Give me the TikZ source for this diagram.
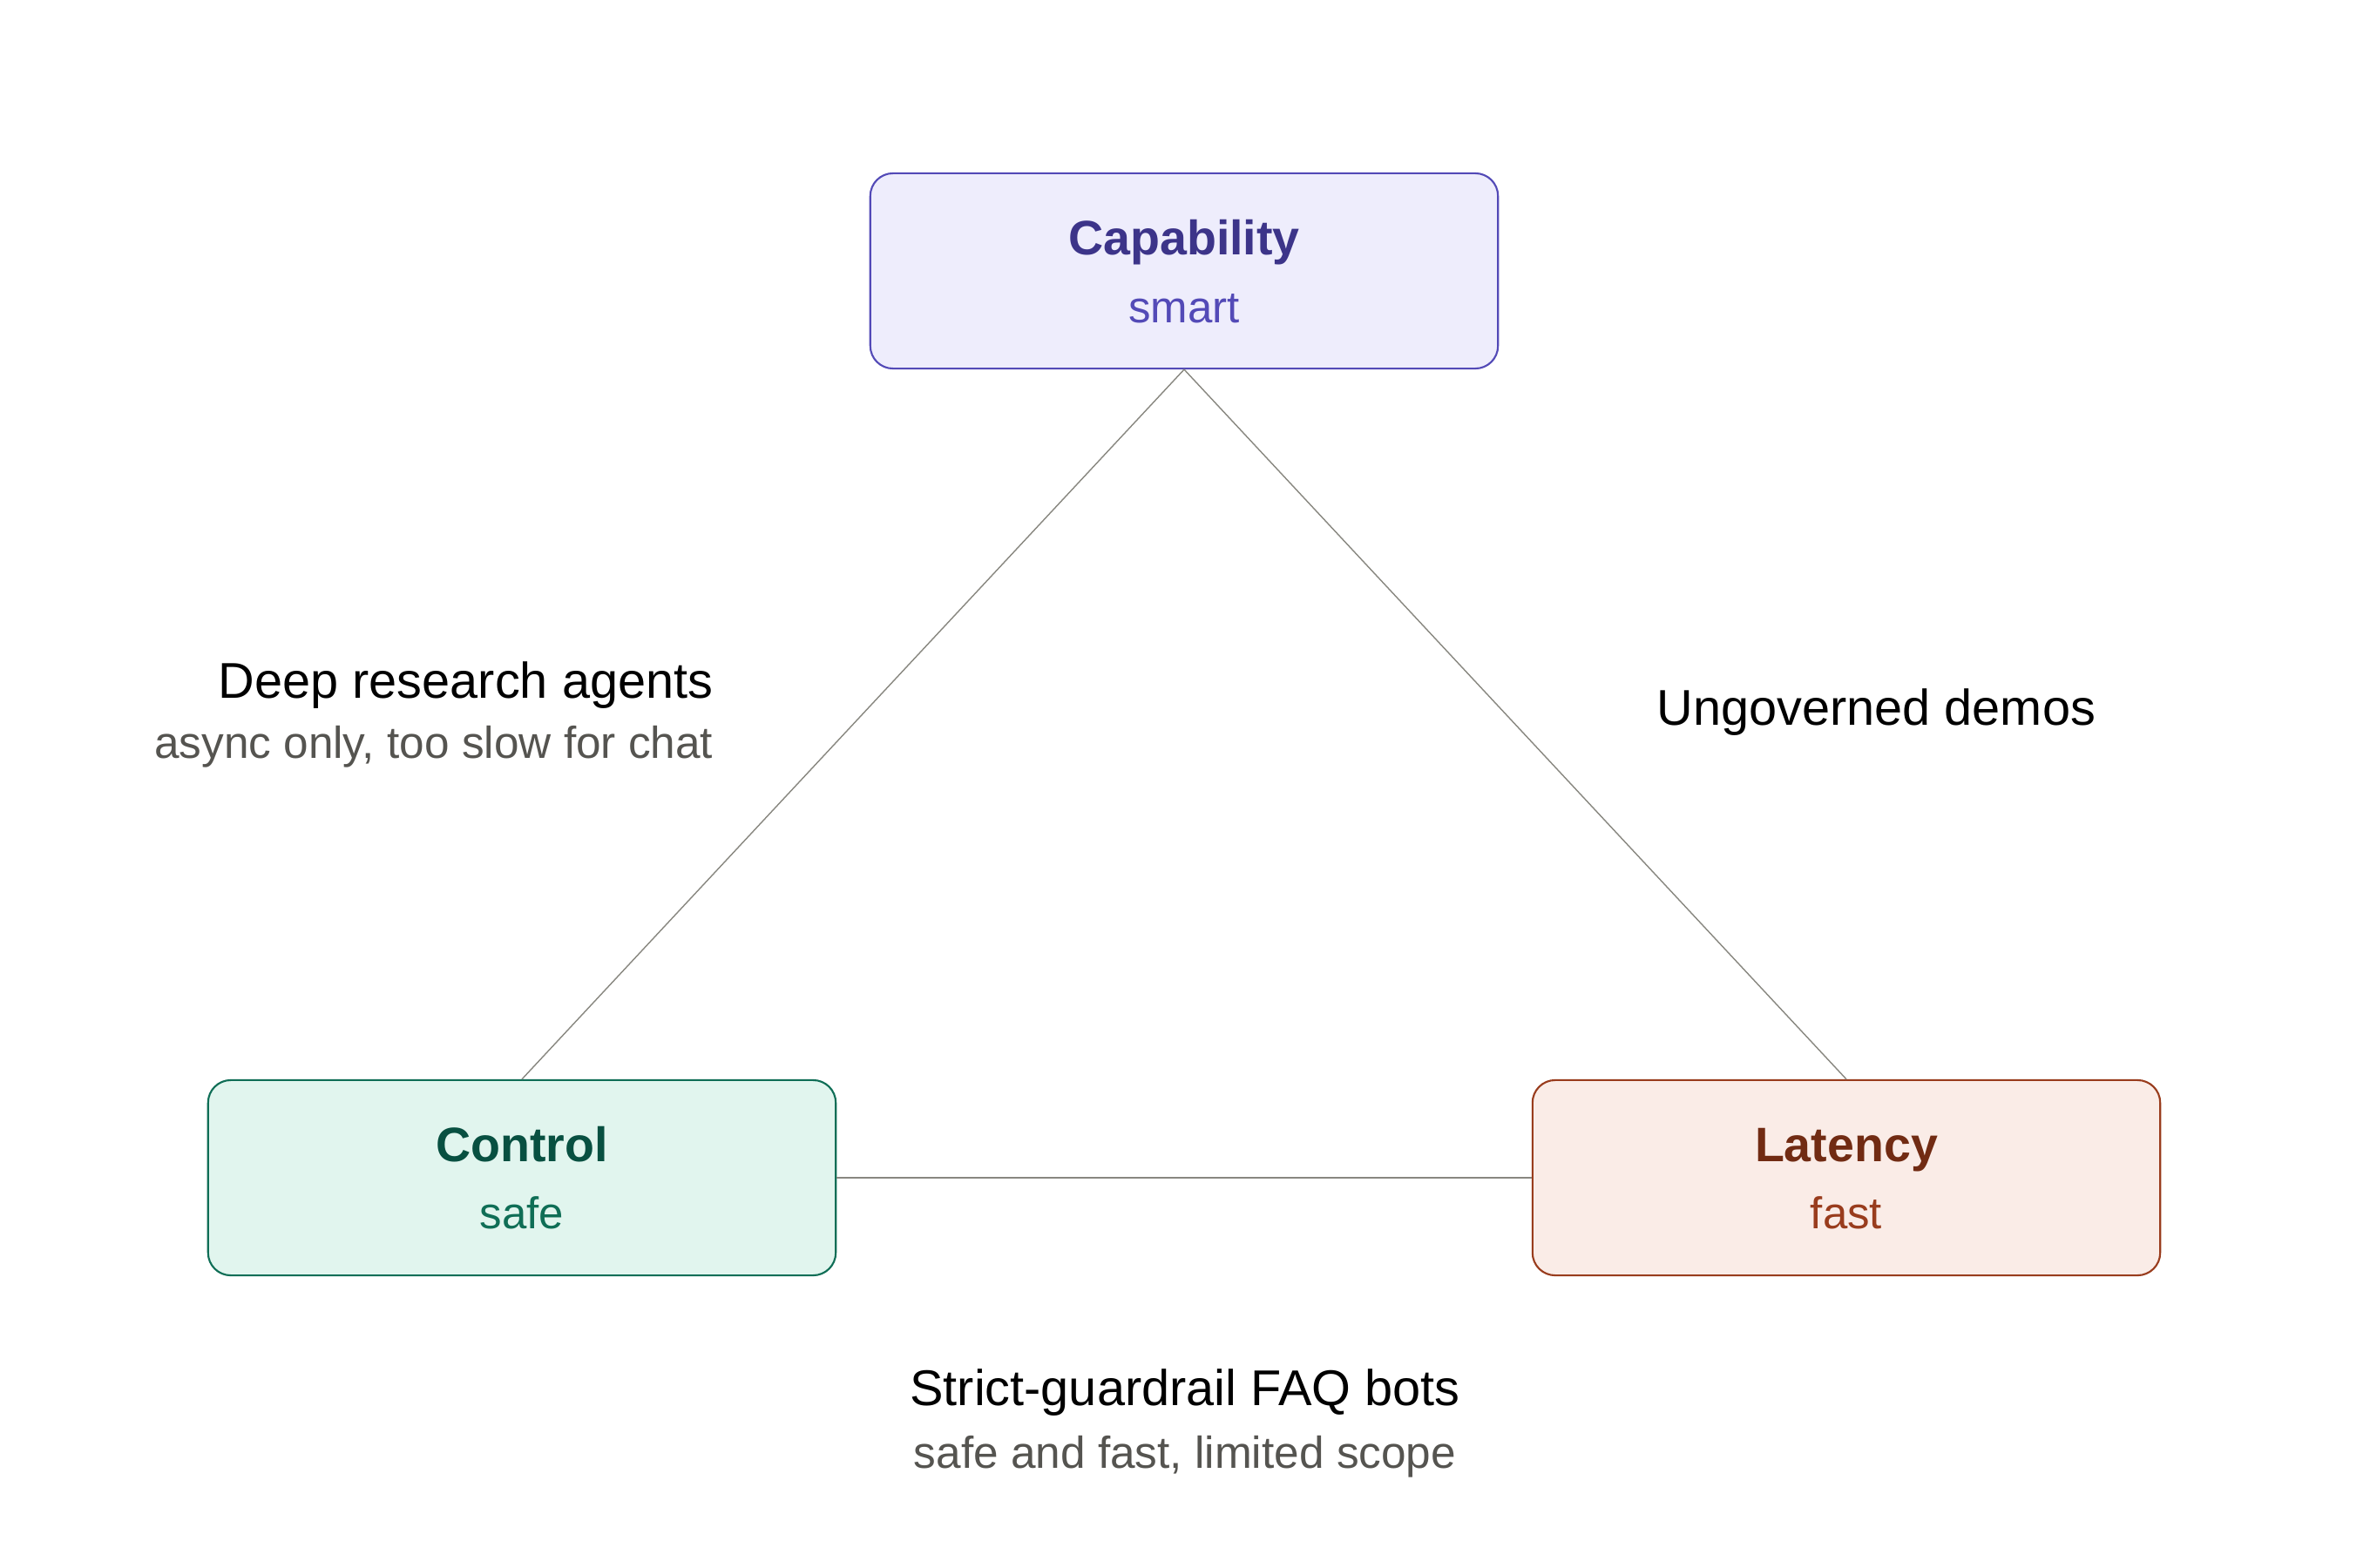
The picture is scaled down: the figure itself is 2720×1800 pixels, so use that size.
\documentclass[tikz,border=0pt]{standalone}
\usepackage{fontspec}
\setmainfont{Liberation Sans}
\usetikzlibrary{positioning}

% palette
\definecolor{capfill}{HTML}{EEEDFC}
\definecolor{capline}{HTML}{534AB7}
\definecolor{captext}{HTML}{3C3489}
\definecolor{ctlfill}{HTML}{E1F5EE}
\definecolor{ctlline}{HTML}{0F6E56}
\definecolor{ctltext}{HTML}{085041}
\definecolor{latfill}{HTML}{FAECE7}
\definecolor{latline}{HTML}{993C1D}
\definecolor{lattext}{HTML}{712B13}
\definecolor{edgegray}{HTML}{888780}
\definecolor{subgray}{HTML}{555450}

\tikzset{
  corner/.style={draw=#1line, fill=#1fill, line width=0.6pt, rounded corners=0.26cm,
    minimum width=7.2cm, minimum height=2.24cm, inner sep=0pt},
  cornertitle/.style={anchor=base, inner sep=0pt, text=#1text,
    font=\fontsize{15.8}{19}\selectfont\bfseries},
  cornersub/.style={anchor=base, inner sep=0pt, text=#1line,
    font=\fontsize{14.5}{17}\selectfont},
  zonetitle/.style={inner sep=0pt, text=black, font=\fontsize{16.4}{19}\selectfont},
  zonesub/.style={inner sep=0pt, text=subgray, font=\fontsize{14.6}{17}\selectfont},
  edge/.style={draw=edgegray, line width=0.4pt},
}

\begin{document}
\begin{tikzpicture}[x=0.01cm, y=-0.01cm]
  \path[use as bounding box, fill=white] (0,0) rectangle (2720,1800);

  % the three corners of the trade-off triangle
  \node[corner=cap] (cap) at (1359,311) {};
  \node[corner=ctl] (ctl) at (599,1352) {};
  \node[corner=lat] (lat) at (2119,1352) {};

  \node[cornertitle=cap] (capT) at (1359,293) {Capability};
  \node[cornersub=cap]   (capS) at (1359,370) {smart};
  \node[cornertitle=ctl] (ctlT) at (599,1333) {Control};
  \node[cornersub=ctl]   (ctlS) at (599,1410) {safe};
  \node[cornertitle=lat] (latT) at (2119,1333) {Latency};
  \node[cornersub=lat]   (latS) at (2119,1410) {fast};

  % sides
  \draw[edge] (cap.south) -- (ctl.north);
  \draw[edge] (cap.south) -- (lat.north);
  \draw[edge] (ctl.east) -- (lat.west);

  % what you get when one corner is dropped
  \node[zonetitle, anchor=base east] (deepT) at (819,801) {Deep research agents};
  \node[zonesub, anchor=base east]   (deepS) at (819,870) {async only, too slow for chat};

  \node[zonetitle, anchor=base west] (demoT) at (1901,832) {Ungoverned demos};

  \node[zonetitle, anchor=base] (faqT) at (1360,1613) {Strict-guardrail FAQ bots};
  \node[zonesub, anchor=base]   (faqS) at (1360,1685) {safe and fast, limited scope};
\end{tikzpicture}
\end{document}
